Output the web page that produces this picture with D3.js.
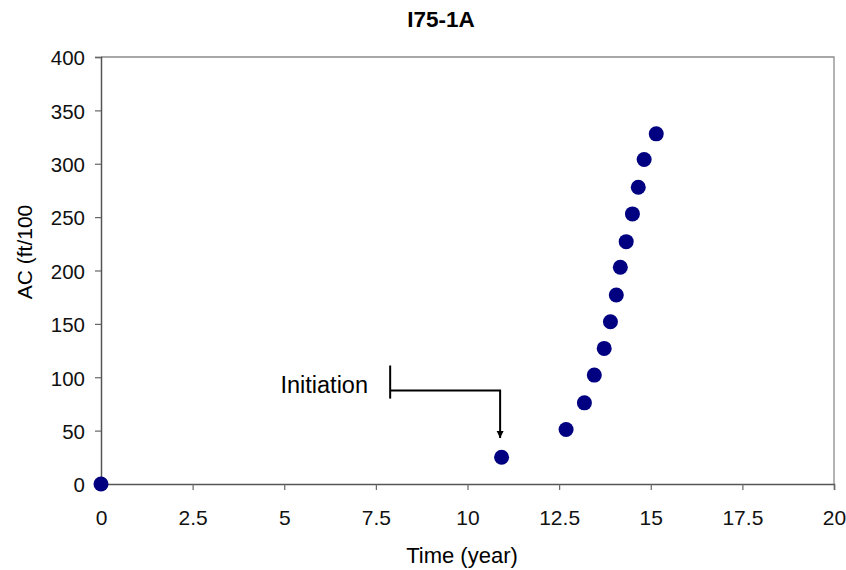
<!DOCTYPE html>
<html>
<head>
<meta charset="utf-8">
<style>
    body { margin: 0; background: #fff; }
    text { font-family: Arial, "Liberation Sans", sans-serif; }
</style>
</head>
<body>
<script src="https://d3js.org/d3.v7.min.js"></script>
<script>
    // data
    var timeYears = [0, 10.93, 12.69, 13.19, 13.46, 13.73, 13.9, 14.06, 14.17, 14.33, 14.5, 14.66, 14.82, 15.15];
    var acValues = [0, 25, 51, 76, 102, 127, 152, 177, 203, 227, 253, 278, 304, 328];
    var xTicks = [0, 2.5, 5, 7.5, 10, 12.5, 15, 17.5, 20];
    var yTicks = [0, 50, 100, 150, 200, 250, 300, 350, 400];

    var width = 846, height = 570;
    var plotLeft = 101, plotRight = 834, plotTop = 57, plotBottom = 484;

    var svg = d3.select("body").append("svg")
        .attr("width", width)
        .attr("height", height);

    var x = d3.scaleLinear().domain([0, 20]).range([plotLeft, plotRight]);
    var y = d3.scaleLinear().domain([0, 400]).range([plotBottom, plotTop]);

    // frame top + right
    svg.append("path")
        .attr("d", "M" + plotLeft + "," + plotTop + "H" + plotRight + "V" + plotBottom)
        .attr("fill", "none")
        .attr("stroke", "#8c8c8c")
        .attr("stroke-width", 1.3);

    var xAxis = svg.append("g")
        .attr("transform", "translate(0," + plotBottom + ")")
        .call(d3.axisBottom(x).tickValues(xTicks).tickSize(6).tickPadding(20)
            .tickFormat(function (d) { return d; }));

    var yAxis = svg.append("g")
        .attr("transform", "translate(" + plotLeft + ",0)")
        .call(d3.axisLeft(y).tickValues(yTicks).tickSize(6).tickPadding(10));

    [xAxis, yAxis].forEach(function (a) {
        a.select(".domain").attr("stroke", "#555").attr("stroke-width", 1.5);
        a.selectAll(".tick line").attr("stroke", "#666").attr("stroke-width", 1.2);
        a.selectAll("text").attr("fill", "#111")
            .style("font-family", "Arial, 'Liberation Sans', sans-serif");
    });
    xAxis.selectAll("text").attr("font-size", 21);
    yAxis.selectAll("text").attr("font-size", 20.5).attr("dy", "0.38em");

    // title and axis labels
    svg.append("text")
        .attr("x", 441).attr("y", 27)
        .attr("text-anchor", "middle")
        .attr("font-size", 22.5).attr("font-weight", "bold")
        .text("I75-1A");

    svg.append("text")
        .attr("x", 462).attr("y", 563)
        .attr("text-anchor", "middle")
        .attr("font-size", 22)
        .text("Time (year)");

    svg.append("text")
        .attr("transform", "translate(32,252) rotate(-90)")
        .attr("text-anchor", "middle")
        .attr("font-size", 21)
        .text("AC (ft/100");

    // initiation annotation
    svg.append("defs").append("marker")
        .attr("id", "arr")
        .attr("viewBox", "0 0 10 10")
        .attr("refX", 10).attr("refY", 5)
        .attr("markerWidth", 7).attr("markerHeight", 9)
        .attr("markerUnits", "userSpaceOnUse")
        .attr("orient", "auto")
        .append("path").attr("d", "M0,0L10,5L0,10z").attr("fill", "#000");

    svg.append("line")
        .attr("x1", x(7.89)).attr("x2", x(7.89))
        .attr("y1", y(111)).attr("y2", y(80))
        .attr("stroke", "#000").attr("stroke-width", 2);

    svg.append("path")
        .attr("d", "M" + x(7.89) + "," + y(87.6) + "H" + x(10.89) + "V" + y(43))
        .attr("fill", "none")
        .attr("stroke", "#000").attr("stroke-width", 2)
        .attr("marker-end", "url(#arr)");

    svg.append("text")
        .attr("x", 368).attr("y", 393)
        .attr("text-anchor", "end")
        .attr("font-size", 23.5)
        .text("Initiation");

    // points
    svg.selectAll("circle.pt")
        .data(timeYears)
        .enter()
        .append("circle")
        .attr("class", "pt")
        .attr("cx", function (d) { return x(d); })
        .attr("cy", function (d, i) { return y(acValues[i]); })
        .attr("r", 7.5)
        .attr("fill", "#000080");
</script>
</body>
</html>
